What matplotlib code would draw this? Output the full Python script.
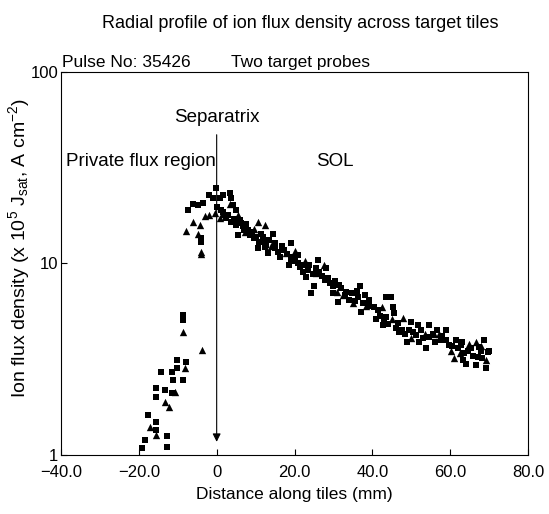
import matplotlib
matplotlib.use("Agg")
import matplotlib.pyplot as plt
import numpy as np

plt.rcParams['font.family'] = ['Liberation Sans', 'DejaVu Sans']
plt.rcParams['mathtext.fontset'] = 'custom'
plt.rcParams['mathtext.rm'] = 'Liberation Sans'
plt.rcParams['mathtext.it'] = 'Liberation Sans'

#%% data (distance mm, ion flux density)
sq_x = [-8.6, -8.6, -10.1, -7.9, -14.2, -11.6, -10.3, -11.3, -8.7, -15.5, -15.5, -13.3, -11.6,
        -17.7, -15.5, -15.5, -12.8, -18.5, -12.8, -19.3,
        -7.4, -6.2, -4.8, -3.5, -2.0, -0.1, -0.9, 0.8, 1.6, 0.0, 1.2, 3.3, 3.8, 4.2, 5.0,
        -3.9, -3.9, 2.5, 3.8, 5.0, 5.9, 6.7, 5.5, 8.0, 8.5, 9.7, 11.0, 12.3, 10.6,
        14.4, 11.9, 14.9, 12.7, 13.2, 16.2, 17.4, 19.2, 19.6, 18.7, 20.8, 21.3, 22.1, 23.0,
        23.8, 26.0, 26.4, 28.1, 27.7, 25.1, 24.3, 29.0, 29.8, 31.5, 31.1, 33.3, 34.1,
        36.7, 36.2, 37.5, 39.2, 40.5, 37.1, 40.9, 43.5,
        44.8, 45.2, 43.5, 45.6, 42.6, 46.5, 46.9, 49.9, 49.5, 49.0, 51.6, 51.2, 52.0, 53.8,
        54.6, 54.6, 56.7, 57.6, 58.9, 59.7, 61.5, 62.7, 63.6, 64.0, 65.3, 67.4, 67.0, 66.6,
        69.6, 69.2, 68.7, 63.2,
        1.5, 2.0, 3.0, 4.5, 6.2, 7.0, 7.5, 9.0, 10.0, 11.5, 12.0, 13.5, 15.0, 15.8, 16.8,
        18.0, 19.0, 20.2, 21.0, 22.5, 23.5, 24.8, 25.5, 27.0, 28.5, 30.0, 30.5, 32.0, 33.0,
        34.8, 35.5, 36.0, 38.0, 39.0, 41.5, 42.0, 43.0, 44.0, 46.0, 47.5, 48.5, 50.5, 52.5,
        53.0, 55.5, 56.0, 58.0, 59.0, 60.5, 62.0, 63.0, 64.5, 65.8, 67.8, 68.2, 70.0]
sq_y = [5.38, 5.07, 3.13, 3.06, 2.71, 2.71, 2.85, 2.46, 2.46, 2.24, 2.01, 2.18, 2.11,
        1.62, 1.49, 1.35, 1.26, 1.20, 1.10, 1.09,
        18.9, 20.5, 20.2, 20.6, 22.8, 24.7, 21.9, 21.9, 22.8, 19.8, 19.0, 23.3, 21.9, 20.2, 19.0,
        13.5, 13.0, 17.2, 16.5, 15.9, 16.9, 15.6, 14.1, 14.9, 14.1, 13.5, 13.0, 12.2, 12.0,
        14.3, 13.8, 12.8, 12.5, 11.3, 10.8, 11.8, 12.8, 10.8, 9.83, 11.0, 9.62, 9.06, 8.52,
        9.83, 10.4, 9.06, 9.44, 8.2, 7.6, 7.0, 7.9, 7.0, 7.7, 6.3, 7.1, 6.45,
        7.6, 6.7, 6.2, 6.45, 5.95, 5.6, 5.1, 6.7,
        6.7, 5.95, 5.28, 5.48, 4.77, 4.87, 4.4, 4.97, 4.49, 3.9, 4.77, 4.24, 3.9, 3.6,
        4.77, 4.15, 4.49, 3.98, 4.49, 3.76, 3.98, 3.76, 3.39, 3.0, 3.6, 3.68, 3.26, 2.95,
        3.46, 2.84, 3.98, 3.13,
        18.5, 17.8, 18.0, 17.0, 16.2, 15.0, 16.0, 14.6, 13.8, 14.2, 13.0, 13.2, 12.0, 11.5, 12.4,
        11.2, 10.5, 10.3, 10.0, 9.8, 9.2, 8.8, 9.5, 8.6, 8.4, 7.6, 8.1, 7.4, 6.8,
        7.0, 6.4, 7.2, 6.8, 6.0, 5.7, 5.3, 5.0, 4.8, 4.6, 4.5, 4.3, 4.4, 4.5,
        4.1, 4.3, 3.9, 4.2, 4.0, 3.7, 3.6, 3.9, 3.5, 3.3, 3.5, 3.2, 3.5]

tri_x = [-8.6, -3.7, -8.2, -10.8, -13.3, -12.3, -17.2, -15.5,
         -3.1, -2.0, -0.5, 0.8, -6.1, -4.4, -7.8, -4.8, -3.9, -3.9,
         10.6, 12.3, 7.2, 17.8, 25.6, 32.5, 38.3, 47.8, 55.8, 61.0, 66.6, 69.2, 60.2,
         3.5, 5.5, 9.5, 14.0, 20.0, 22.8, 27.5, 30.8, 35.0, 42.5, 45.0, 50.0, 53.5,
         57.2, 62.5, 64.8, 68.0]
tri_y = [4.39, 3.53, 2.85, 2.13, 1.89, 1.78, 1.40, 1.27,
         17.7, 17.9, 18.3, 17.2, 16.5, 15.9, 14.7, 14.3, 11.5, 11.2,
         16.5, 15.9, 14.6, 11.4, 8.9, 6.8, 6.0, 5.2, 4.3, 3.2, 3.9, 3.13, 3.5,
         20.5, 18.0, 15.2, 12.4, 11.6, 10.3, 9.8, 7.1, 6.2, 5.9, 5.1, 4.1, 4.3,
         4.3, 3.4, 3.8, 3.7]

x_ticks = [-40, -20, 0, 20, 40, 60, 80]
x_labels = ["\u221240.0", "\u221220.0", "0", "20.0", "40.0", "60.0", "80.0"]

#%% plot
fig = plt.figure(figsize=(5.49, 5.14), dpi=100)
ax = fig.add_axes([0.111, 0.115, 0.851, 0.745])

ax.scatter(sq_x, sq_y, marker="s", s=22, color="black", linewidths=0)
ax.scatter(tri_x, tri_y, marker="^", s=28, color="black", linewidths=0)

ax.set_yscale("log")
ax.set_xlim(-40, 80)
ax.set_ylim(1, 100)
ax.set_xticks(x_ticks)
ax.set_xticklabels(x_labels)
ax.set_yticks([1, 10, 100])
ax.set_yticklabels(["1", "10", "100"])
ax.minorticks_off()
ax.tick_params(direction="in", length=4, width=0.8, labelsize=12)
ax.tick_params(axis="x", pad=7)
ax.tick_params(axis="y", pad=2)

# separatrix arrow
ax.annotate("", xy=(0, 1.17), xytext=(0, 47),
            arrowprops=dict(arrowstyle="-|>", color="black", lw=0.8,
                            mutation_scale=12, shrinkA=0, shrinkB=0))
ax.text(0, 52, "Separatrix", ha="center", va="bottom", fontsize=13.5)
ax.text(-38.8, 34, "Private flux region", ha="left", va="center", fontsize=13.5)
ax.text(25.5, 34, "SOL", ha="left", va="center", fontsize=13.5)

ax.text(-39.7, 103, "Pulse No: 35426", ha="left", va="bottom", fontsize=12.5)
ax.text(3.6, 103, "Two target probes", ha="left", va="bottom", fontsize=12.5)
fig.text(0.547, 0.955, "Radial profile of ion flux density across target tiles",
         ha="center", va="center", fontsize=13)

ax.set_xlabel("Distance along tiles (mm)", fontsize=12.5, labelpad=5)
ax.set_ylabel("Ion flux density (x 10$^{5}$ J$_{\\mathrm{sat}}$, A cm$^{-2}$)", fontsize=14)
ax.yaxis.set_label_coords(-0.062, 0.54)

for s in ax.spines.values():
    s.set_linewidth(0.8)

plt.savefig("out.png", dpi=100)
